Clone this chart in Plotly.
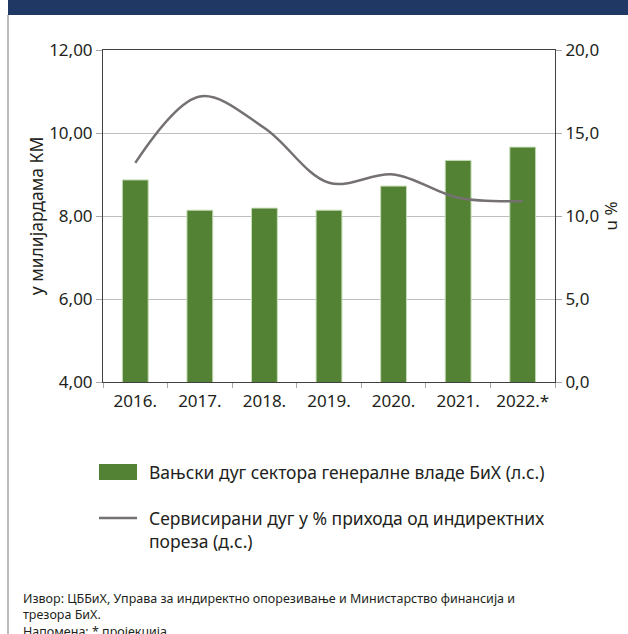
import plotly.graph_objects as go

years = ["2016.", "2017.", "2018.", "2019.", "2020.", "2021.", "2022.*"]
external_debt = [8.87, 8.14, 8.19, 8.14, 8.72, 9.34, 9.66]
serviced_pct = [13.2, 17.2, 15.3, 12.0, 12.5, 11.1, 10.9]

bar_name = "Вањски дуг сектора генералне владе БиХ (л.с.)"
line_name = "Сервисирани дуг у % прихода од индиректних<br>пореза (д.с.)"
left_title = "у милијардама КМ"
right_title = "u %"
footer = ("Извор: ЦББиХ, Управа за индиректно опорезивање и Министарство финансија и<br>"
          "трезора БиХ.<br>Напомена: * пројекција")

FONT = "Noto Sans"
TXT = "#231f20"
GREEN = "#548235"
GRAY = "#767171"

L, R, T, B = 103, 73, 50, 252
PW, PH = 628 - L - R, 634 - T - B


def px(x):
    return (x - L) / PW


def py(y):
    return (634 - B - y) / PH


fig = go.Figure()
fig.add_trace(go.Bar(x=years, y=external_debt, marker=dict(color=GREEN, line=dict(color="#c5dcb4", width=1)),
                     width=0.4, name=bar_name, showlegend=False))
fig.add_trace(go.Scatter(x=years, y=serviced_pct, yaxis="y2", mode="lines",
                         line=dict(color=GRAY, width=2.5, shape="spline", smoothing=1.0),
                         name=line_name, showlegend=False))

fig.update_layout(
    width=628, height=634,
    margin=dict(l=L, r=R, t=T, b=B),
    paper_bgcolor="white", plot_bgcolor="white",
    separators=", ",
    font=dict(family=FONT, size=17, color=TXT),
    xaxis=dict(showline=True, linecolor="#404040", linewidth=1, mirror=True,
               ticks="outside", tickson="boundaries", ticklen=5, tickcolor="#a6a6a6",
               tickfont=dict(size=17), showgrid=False, ticklabelstandoff=4),
    yaxis=dict(range=[4, 12], dtick=2, tickformat=".2f", showline=True, linecolor="#404040",
               linewidth=1, ticks="outside", ticklen=6, tickcolor="#a6a6a6",
               gridcolor="#bfbfbf", gridwidth=1, zeroline=False, tickfont=dict(size=17),
               title=dict(text=left_title, font=dict(size=17.5), standoff=1)),
    yaxis2=dict(range=[0, 20], dtick=5, tickformat=".1f", overlaying="y", side="right",
                showline=True, linecolor="#404040", linewidth=1, ticks="outside", ticklen=6,
                tickcolor="#a6a6a6", showgrid=False, zeroline=False, tickfont=dict(size=17),
                title=dict(text=right_title, font=dict(size=17), standoff=4)),
    bargap=0.6,
)

shapes = [
    dict(type="rect", xref="paper", yref="paper", x0=px(8), x1=px(628), y0=py(15), y1=py(0),
         fillcolor="#1f3864", line=dict(width=0), layer="above"),
    dict(type="line", xref="paper", yref="paper", x0=px(8), x1=px(8), y0=py(634), y1=py(15),
         line=dict(color="#a6a6a6", width=1.5)),
    # legend swatches
    dict(type="rect", xref="paper", yref="paper", x0=px(99), x1=px(137),
         y0=py(480), y1=py(464), fillcolor=GREEN, line=dict(width=0)),
    dict(type="line", xref="paper", yref="paper", x0=px(99), x1=px(137),
         y0=py(518), y1=py(518), line=dict(color=GRAY, width=2.5)),
]
annotations = [
    dict(xref="paper", yref="paper", x=px(147), y=py(472), text=bar_name, showarrow=False,
         xanchor="left", yanchor="middle", font=dict(size=17.5, color=TXT)),
    dict(xref="paper", yref="paper", x=px(147), y=py(504), text=line_name, showarrow=False,
         xanchor="left", yanchor="top", align="left", font=dict(size=17.5, color=TXT)),
    dict(xref="paper", yref="paper", x=px(21), y=py(588), text=footer, showarrow=False,
         xanchor="left", yanchor="top", align="left", font=dict(size=12.5, color=TXT)),
]
fig.update_layout(shapes=shapes, annotations=annotations)

fig.write_html("out.html", config={"displayModeBar": False},
               post_script="document.body.style.margin='0';")
